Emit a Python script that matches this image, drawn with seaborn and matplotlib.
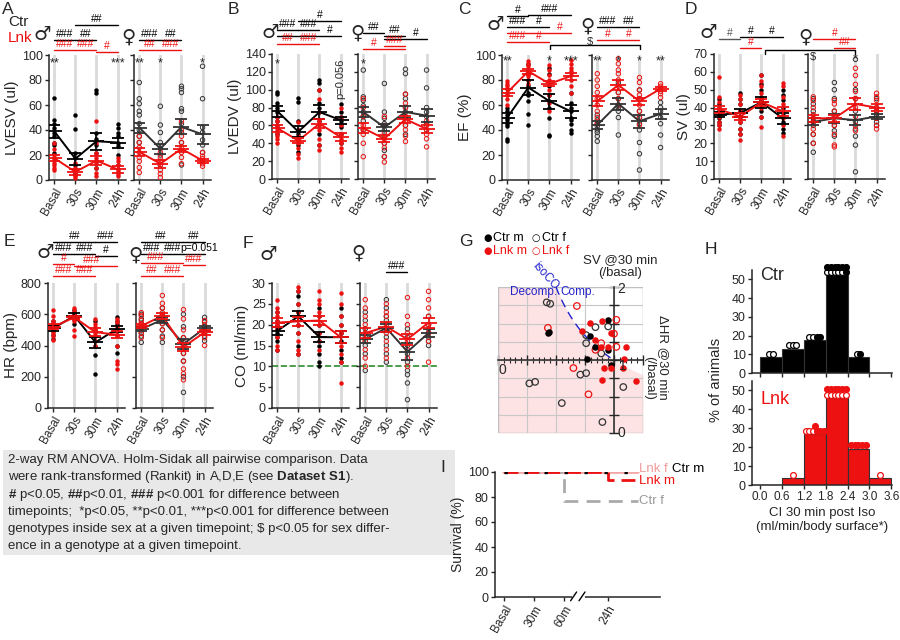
import numpy as np
import pandas as pd
import matplotlib
matplotlib.use('Agg')
import matplotlib.pyplot as plt
import matplotlib.transforms as mtrans
from matplotlib.lines import Line2D
from matplotlib.patches import Rectangle
import seaborn as sns

sns.set_style('ticks')
plt.rcParams['font.family'] = ['Liberation Sans', 'DejaVu Sans']
plt.rcParams['mathtext.fontset'] = 'custom'
plt.rcParams['mathtext.rm'] = 'Liberation Sans'
plt.rcParams['mathtext.bf'] = 'Liberation Sans:bold'
plt.rcParams['axes.linewidth'] = 1.1

times = ['Basal', '30s', '30m', '24h']
RED = '#ee1111'

# ---- A: LVESV (ul), points per timepoint
lvesv_ctr_m = [[66, 48, 45, 42, 38, 35, 30, 28, 22], [52, 41, 22, 18, 12, 9, 6], [72, 70, 38, 33, 28, 22, 15, 10], [45, 42, 38, 35, 30, 27, 20, 12]]
lvesv_lnk_m = [[30, 25, 20, 18, 16, 14, 12, 10, 8], [14, 10, 8, 6, 4, 3, 2], [47, 30, 22, 18, 14, 10, 6, 3], [18, 15, 12, 9, 7, 5, 3]]
lvesv_ctr_f = [[78, 65, 61, 55, 52, 45, 40, 35, 30], [59, 44, 38, 30, 25, 20, 12], [75, 73, 70, 57, 55, 45, 38, 30, 12], [91, 65, 42, 38, 32, 28, 22]]
lvesv_lnk_f = [[35, 30, 26, 22, 18, 15, 10, 6], [22, 18, 15, 12, 8, 5, 2], [47, 40, 35, 30, 26, 22, 18, 13], [22, 19, 17, 15, 13, 11]]
lvesv_ctr_m_mean, lvesv_ctr_m_sem = [39, 17, 31, 30], [5, 5, 7, 4]
lvesv_lnk_m_mean, lvesv_lnk_m_sem = [17.5, 6.5, 15.5, 8.5], [2.5, 2.5, 3.5, 2.5]
lvesv_ctr_f_mean, lvesv_ctr_f_sem = [42, 25, 42.5, 36.5], [4, 4, 6, 7.5]
lvesv_lnk_f_mean, lvesv_lnk_f_sem = [22.5, 13, 25, 15.5], [3.5, 3, 2.5, 1.5]

# ---- B: LVEDV (ul)
lvedv_ctr_m = [[97, 95, 85, 80, 75, 70, 65, 58, 50], [91, 86, 65, 55, 50, 45, 38, 30], [111, 108, 100, 85, 80, 75, 65, 50, 38], [84, 75, 70, 65, 62, 58, 50, 40]]
lvedv_lnk_m = [[70, 65, 60, 55, 52, 48, 45, 40], [64, 55, 48, 43, 40, 35, 28, 23], [100, 90, 75, 65, 60, 55, 45, 38, 32], [80, 70, 60, 50, 45, 40, 35, 30]]
lvedv_ctr_f = [[122, 92, 88, 82, 75, 70, 65, 55], [107, 75, 68, 62, 55, 48, 40, 32, 25], [123, 118, 95, 90, 80, 75, 70, 60, 50], [122, 102, 80, 75, 70, 62, 55]]
lvedv_lnk_f = [[90, 80, 70, 60, 55, 50, 40, 25], [70, 60, 52, 45, 40, 35, 25, 19], [95, 85, 80, 70, 65, 60, 55, 48, 42], [65, 60, 55, 50, 45, 36]]
lvedv_ctr_m_mean, lvedv_ctr_m_sem = [76, 53, 75, 66], [6, 6, 8, 4]
lvedv_lnk_m_mean, lvedv_lnk_m_sem = [57, 43, 62, 47], [4, 3, 5, 4]
lvedv_ctr_f_mean, lvedv_ctr_f_sem = [75, 58, 75, 71], [6, 4, 7, 7]
lvedv_lnk_f_mean, lvedv_lnk_f_sem = [57, 45, 67, 56], [6, 4, 4, 4]

# ---- C: EF (%)
ef_ctr_m = [[58, 55, 52, 50, 48, 45, 43, 33, 31], [93, 85, 80, 75, 70, 68, 63, 53, 44], [90, 85, 75, 68, 63, 58, 50, 36, 35], [70, 62, 58, 55, 50, 48, 45, 40, 38]]
ef_lnk_m = [[79, 77, 75, 73, 70, 68, 65, 60], [95, 93, 91, 88, 85, 83, 80, 77], [92, 88, 84, 80, 77, 72, 68, 62, 55], [96, 93, 90, 87, 84, 80, 75, 70]]
ef_ctr_f = [[52, 48, 45, 43, 40, 38, 35, 31], [78, 70, 65, 60, 58, 55, 50, 36], [72, 65, 55, 50, 45, 40, 30, 21, 8], [62, 58, 55, 50, 45, 36, 26]]
ef_lnk_f = [[85, 80, 75, 70, 65, 60, 55, 50, 45], [97, 93, 88, 85, 80, 75, 70, 65, 60], [82, 78, 72, 68, 65, 60, 55, 50, 44], [77, 75, 73, 71, 69, 66]]
ef_ctr_m_mean, ef_ctr_m_sem = [50, 74, 63, 55], [4, 6, 6, 5]
ef_lnk_m_mean, ef_lnk_m_sem = [70, 87, 77, 83], [2.5, 2, 2, 3]
ef_ctr_f_mean, ef_ctr_f_sem = [44, 61, 47, 53], [3, 5, 5, 4]
ef_lnk_f_mean, ef_lnk_f_sem = [63, 76, 63, 73], [4, 4, 3, 1.5]

# ---- D: SV (ul)
sv_ctr_m = [[45, 42, 40, 38, 36, 34, 32, 30], [48, 45, 42, 38, 35, 32, 28, 25], [58, 53, 50, 46, 44, 42, 38, 35], [50, 47, 44, 40, 36, 32, 28, 26]]
sv_lnk_m = [[57, 46, 43, 40, 38, 35, 32, 30, 28], [47, 45, 42, 38, 35, 32, 28, 25, 22], [58, 55, 52, 48, 45, 42, 40, 35, 29], [54, 52, 46, 42, 38, 34, 30, 24]]
sv_ctr_f = [[45, 42, 38, 34, 32, 30, 25, 20, 15], [54, 50, 45, 38, 35, 30, 27, 24], [67, 50, 45, 38, 32, 28, 24, 19, 4], [45, 40, 38, 36, 34, 32, 30]]
sv_lnk_f = [[46, 44, 40, 36, 32, 28, 25, 20], [44, 42, 38, 35, 32, 30, 25, 19, 18], [62, 58, 53, 49, 45, 40, 35, 30, 27], [48, 46, 44, 40, 38, 34, 30, 28]]
sv_ctr_m_mean, sv_ctr_m_sem = [36, 37, 43, 34], [1.5, 2, 3, 3]
sv_lnk_m_mean, sv_lnk_m_sem = [39, 35, 43, 38], [2, 2, 2, 2.5]
sv_ctr_f_mean, sv_ctr_f_sem = [32, 34, 33, 35], [2, 2.5, 3, 1.5]
sv_lnk_f_mean, sv_lnk_f_sem = [34, 34, 42, 40], [2, 2, 3.5, 2]

# ---- E: HR (bpm)
hr_ctr_m = [[560, 540, 520, 510, 500, 490, 470, 440], [630, 610, 600, 590, 580, 570, 540], [560, 500, 460, 430, 400, 340, 220], [580, 560, 540, 500, 470, 400, 350]]
hr_lnk_m = [[630, 590, 560, 540, 520, 500, 480, 460, 435], [640, 620, 600, 590, 580, 570, 560, 500, 460], [570, 540, 520, 500, 480, 460, 430, 400], [570, 550, 520, 500, 470, 400, 300, 280, 250]]
hr_ctr_f = [[600, 570, 540, 520, 500, 480, 460, 420], [640, 600, 580, 560, 540, 500, 460, 420], [600, 520, 450, 420, 380, 350, 300, 200, 100], [580, 550, 520, 500, 480, 460, 430]]
hr_lnk_f = [[610, 590, 560, 540, 520, 500, 480, 450], [720, 670, 640, 610, 590, 570, 540, 500, 450], [630, 570, 500, 450, 400, 350, 300, 250, 220, 180], [560, 530, 500, 480, 450, 400]]
hr_ctr_m_mean, hr_ctr_m_sem = [510, 590, 420, 505], [15, 15, 35, 20]
hr_lnk_m_mean, hr_lnk_m_sem = [520, 580, 485, 470], [15, 10, 25, 25]
hr_ctr_f_mean, hr_ctr_f_sem = [505, 565, 410, 510], [15, 20, 30, 15]
hr_lnk_f_mean, hr_lnk_f_sem = [525, 590, 390, 485], [15, 20, 25, 15]

# ---- F: CO (ml/min)
co_ctr_m = [[23, 21, 20, 19, 18, 17, 16, 14], [28, 27, 25, 23, 22, 20, 18, 15, 13], [24, 22, 20, 18, 16, 15, 13, 11, 10], [24, 22, 20, 18, 16, 14, 12, 11]]
co_lnk_m = [[26, 24, 23, 22, 21, 20, 19, 17, 15, 14], [29, 28, 25, 23, 22, 20, 18, 16, 14, 13], [28, 26, 25, 23, 22, 20, 18, 16, 14], [27.5, 25, 22, 20, 18, 15, 13, 11, 6]]
co_ctr_f = [[23, 21, 19, 17, 16, 15, 13, 9], [26, 24, 22, 21, 19, 17, 15, 13, 11], [19, 17, 15, 13, 11, 9, 8, 6, 2], [22, 20, 19, 18, 17, 16, 15]]
co_lnk_f = [[26, 24, 22, 20, 18, 16, 14, 12, 10], [25, 23, 22, 20, 19, 18, 16, 14, 12], [26.5, 22, 20, 18, 16, 14, 12, 10], [28, 26, 24, 22, 20, 18, 16, 11]]
co_ctr_m_mean, co_ctr_m_sem = [18.5, 22, 17, 17], [1, 1.2, 1.2, 1.5]
co_lnk_m_mean, co_lnk_m_sem = [20.5, 20.8, 21, 17], [1, 1, 1, 1.5]
co_ctr_f_mean, co_ctr_f_sem = [16.5, 19.2, 13.5, 18], [1, 1, 2, 1]
co_lnk_f_mean, co_lnk_f_sem = [18, 19.5, 16.5, 20.5], [1.3, 1.2, 1.3, 1.2]

# ---- G: dHR vs SV at 30 min (relative to basal)
g_ctr_m_x = [0.43, 0.44, 0.79, 0.95, 0.77, 0.84, 0.95, 0.97]
g_ctr_m_y = [1.37, 1.39, 1.33, 1.55, 1.01, 1.18, 1.14, 0.93]
g_ctr_f_x = [0.45, 0.42, 0.84, 0.95, 0.76, 0.76, 0.89, 0.76, 0.71, 0.32, 0.27, 0.55, 1.08, 0.90]
g_ctr_f_y = [1.77, 1.79, 1.45, 1.46, 1.34, 1.23, 1.09, 0.82, 0.80, 0.70, 0.68, 0.41, 0.63, 0.15]
g_lnk_m_x = [0.79, 0.90, 0.72, 0.84, 0.97, 1.10, 0.89, 0.95, 1.09, 0.91, 0.97, 1.08, 0.90, 1.19]
g_lnk_m_y = [1.51, 1.53, 1.40, 1.27, 1.37, 1.18, 1.18, 1.18, 1.01, 0.89, 0.89, 0.89, 0.73, 0.71]
g_lnk_f_x = [0.68, 1.02, 0.43, 1.00, 1.02, 0.89, 0.84, 0.65, 0.78]
g_lnk_f_y = [1.74, 1.55, 1.44, 1.36, 1.18, 1.23, 1.14, 0.89, 0.53]

# ---- H: CI histogram (animal counts per bin)
h_bins = [0.3, 0.9, 1.5, 2.1, 2.7, 3.3]
h_ctr_f = [2, 3, 2, 5, 1, 0]
h_ctr_m = [0, 0, 2, 7, 1, 0]
h_lnk_f = [0, 1, 3, 6, 0, 1]
h_lnk_m = [0, 0, 4, 6, 5, 0]

# ---- I: survival (%)
surv_x = [0, 2, 3.45, 4.45]
surv_ctr_m = [100, 100, 100, 100]
surv_lnk_f = [100, 100, 100, 100]
surv_ctr_f = [100, 76.9, 76.9, 76.9]
surv_lnk_m = [100, 100, 93.3, 93.3]
surv_ticks = [0, 1, 2, 3.45]
surv_labels = ['Basal', '30m', '60m', '24h']

W, H = 900, 640
fig = plt.figure(figsize=(9, 6.4), dpi=100)


def px_axes(left, top, width, height):
    return fig.add_axes([left / W, 1 - (top + height) / H, width / W, height / H])


def ftext(x, y, s, **kw):
    fig.text(x / W, 1 - y / H, s, **kw)


def fline(xs, ys, **kw):
    fig.add_artist(Line2D([x / W for x in xs], [1 - y / H for y in ys], **kw))


def draw_group(ax, pts, mean, sem, color, hollow):
    df = pd.DataFrame({'t': [i for i, col in enumerate(pts) for _ in col],
                       'v': [v for col in pts for v in col]})
    n0 = len(ax.collections)
    sns.stripplot(data=df, x='t', y='v', native_scale=True, jitter=False,
                  color=color, size=3.2, linewidth=0, ax=ax, zorder=3)
    if hollow:
        for coll in ax.collections[n0:]:
            coll.set_facecolor('none')
            coll.set_edgecolor(color)
            coll.set_linewidth(0.7)
    x = np.arange(4)
    sns.lineplot(x=x, y=mean, color=color, lw=1.4, ax=ax, zorder=4)
    ax.errorbar(x, mean, yerr=sem, fmt='none', ecolor=color, elinewidth=1.2,
                capsize=4.5, capthick=1.3, zorder=5)
    ax.plot(x, mean, ls='none', marker='_', ms=11, mew=1.3, color=color, zorder=5)


def dot_panel(xm, xf, top, ymax, yticks, ylabel, groups):
    axs = []
    for k, x0 in enumerate([xm, xf]):
        ax = px_axes(x0, top, 77, 125)
        for i in range(4):
            ax.axvline(i, color='#dadada', lw=2, zorder=0)
        for pts, mean, sem, color in groups[k]:
            draw_group(ax, pts, mean, sem, color, hollow=(k == 1))
        ax.set_xlim(-0.25, 3.4)
        ax.set_ylim(0, ymax)
        ax.set_yticks(yticks)
        ax.set_xticks(range(4))
        ax.set_xticklabels(times, rotation=60, ha='right', rotation_mode='anchor', fontsize=8.5)
        ax.set_xlabel('')
        if k == 0:
            ax.set_ylabel(ylabel, fontsize=11, labelpad=2)
            ax.tick_params(axis='y', labelsize=9)
        else:
            ax.set_ylabel('')
            ax.set_yticklabels([])
        ax.tick_params(length=3, width=1, pad=1.5)
        sns.despine(ax=ax)
        axs.append(ax)
    return axs


def sig(ax, i0, i1, dpx, text, color='black', tx=None):
    tr = mtrans.blended_transform_factory(ax.transData, ax.transAxes)
    y = 1 + dpx / 125
    ax.plot([i0, i1], [y, y], color=color, lw=1, transform=tr, clip_on=False)
    ax.text((i0 + i1) / 2 if tx is None else tx, y + 0.005, text, color=color,
            ha='center', va='bottom', fontsize=7.5, transform=tr)


def stars(ax, d, y):
    for i, s in d.items():
        ax.text(i, y, s, ha='center', va='center', fontsize=9)


K = 'black'
CF = '#333333'

# ---------------- row 1 ----------------
axA = dot_panel(49, 134, 55, 100, range(0, 101, 20), 'LVESV (ul)',
                [[(lvesv_ctr_m, lvesv_ctr_m_mean, lvesv_ctr_m_sem, K), (lvesv_lnk_m, lvesv_lnk_m_mean, lvesv_lnk_m_sem, RED)],
                 [(lvesv_ctr_f, lvesv_ctr_f_mean, lvesv_ctr_f_sem, CF), (lvesv_lnk_f, lvesv_lnk_f_mean, lvesv_lnk_f_sem, RED)]])
sig(axA[0], 1, 3, 30, '##'); sig(axA[0], 0, 1, 15, '###'); sig(axA[0], 1, 2, 15, '##')
sig(axA[0], 0, 1, 5, '###', RED); sig(axA[0], 1, 2, 5, '###', RED); sig(axA[0], 2, 3, 3, '#', RED)
sig(axA[1], 0, 1, 15, '###'); sig(axA[1], 1, 2, 15, '##')
sig(axA[1], 0, 1, 5, '##', RED); sig(axA[1], 1, 2, 5, '###', RED)
stars(axA[0], {0: '**', 3: '***'}, 93); stars(axA[1], {0: '**', 1: '*', 3: '*'}, 93)

axB = dot_panel(272, 358, 54, 140, range(0, 141, 20), 'LVEDV (ul)',
                [[(lvedv_ctr_m, lvedv_ctr_m_mean, lvedv_ctr_m_sem, K), (lvedv_lnk_m, lvedv_lnk_m_mean, lvedv_lnk_m_sem, RED)],
                 [(lvedv_ctr_f, lvedv_ctr_f_mean, lvedv_ctr_f_sem, CF), (lvedv_lnk_f, lvedv_lnk_f_mean, lvedv_lnk_f_sem, RED)]])
sig(axB[0], 1, 3, 33, '#'); sig(axB[0], 0, 1, 24, '###'); sig(axB[0], 1, 2, 24, '###')
sig(axB[0], 0, 3, 18, '#', tx=2.5)
sig(axB[0], 0, 1, 10, '##', RED); sig(axB[0], 1, 2, 10, '###', RED)
sig(axB[1], 0, 1, 21, '##'); sig(axB[1], 1, 2, 18, '##'); sig(axB[1], 1, 3, 15, '#', tx=2.5)
sig(axB[1], 0, 2, 5, '#', RED, tx=0.5); sig(axB[1], 1, 2, 8, '###', RED)
stars(axB[0], {0: '*'}, 128); stars(axB[1], {0: '*'}, 128)
axB[0].text(3, 112, 'p=0.056', rotation=90, ha='center', va='center', fontsize=8)

axC = dot_panel(502, 592, 55, 100, range(0, 101, 20), 'EF (%)',
                [[(ef_ctr_m, ef_ctr_m_mean, ef_ctr_m_sem, K), (ef_lnk_m, ef_lnk_m_mean, ef_lnk_m_sem, RED)],
                 [(ef_ctr_f, ef_ctr_f_mean, ef_ctr_f_sem, CF), (ef_lnk_f, ef_lnk_f_mean, ef_lnk_f_sem, RED)]])
sig(axC[0], 0, 1, 39, '#'); sig(axC[0], 1, 3, 40, '###')
sig(axC[0], 0, 1, 28, '###'); sig(axC[0], 1, 2, 28, '#')
sig(axC[0], 0, 3, 22, '#', RED, tx=2.5)
sig(axC[0], 0, 1, 13, '###', RED); sig(axC[0], 1, 2, 13, '#', RED)
sig(axC[1], 0, 1, 28, '###'); sig(axC[1], 1, 2, 28, '##')
sig(axC[1], 0, 1, 15, '#', RED); sig(axC[1], 1, 2, 15, '#', RED)
stars(axC[0], {0: '**', 2: '*', 3: '***'}, 95); stars(axC[1], {0: '**', 1: '*', 2: '*', 3: '**'}, 95)
fline([550, 550, 640, 640], [49, 45, 45, 49], color='black', lw=1)
ftext(590, 42, r'\$', ha='center', va='center', fontsize=8)

axD = dot_panel(714, 808, 54, 70, range(0, 71, 10), 'SV (ul)',
                [[(sv_ctr_m, sv_ctr_m_mean, sv_ctr_m_sem, K), (sv_lnk_m, sv_lnk_m_mean, sv_lnk_m_sem, RED)],
                 [(sv_ctr_f, sv_ctr_f_mean, sv_ctr_f_sem, CF), (sv_lnk_f, sv_lnk_f_mean, sv_lnk_f_sem, RED)]])
sig(axD[0], 0, 1, 15, '#', '#555555'); sig(axD[0], 1, 2, 17, '#'); sig(axD[0], 2, 3, 17, '#')
sig(axD[0], 1, 2, 6, '#', RED)
sig(axD[1], 0, 2, 15, '#', RED, tx=1); sig(axD[1], 1, 2, 6, '##', RED, tx=1.5)
stars(axD[1], {2: '*'}, 67)
fline([765, 765, 855, 855], [54, 50, 50, 54], color='black', lw=1)
ftext(813, 57, r'\$', ha='center', va='center', fontsize=8)

# ---------------- row 2 ----------------
axE = dot_panel(48, 136, 283, 800, range(0, 801, 200), 'HR (bpm)',
                [[(hr_ctr_m, hr_ctr_m_mean, hr_ctr_m_sem, K), (hr_lnk_m, hr_lnk_m_mean, hr_lnk_m_sem, RED)],
                 [(hr_ctr_f, hr_ctr_f_mean, hr_ctr_f_sem, CF), (hr_lnk_f, hr_lnk_f_mean, hr_lnk_f_sem, RED)]])
sig(axE[0], 0, 2, 41, '##'); sig(axE[0], 2, 3, 41, '###')
sig(axE[0], 0, 1, 29, '###'); sig(axE[0], 1, 2, 29, '###'); sig(axE[0], 2, 3, 27, '#')
sig(axE[0], 0, 1, 19, '#', RED); sig(axE[0], 1, 3, 17, '###', RED, tx=1.8)
sig(axE[0], 0, 1, 7, '###', RED); sig(axE[0], 1, 2, 7, '###', RED)
sig(axE[1], 0, 2, 41, '##', tx=0.9); sig(axE[1], 2, 3, 41, '##')
sig(axE[1], 0, 1, 29, '###'); sig(axE[1], 1, 2, 29, '###'); sig(axE[1], 2, 3, 29, 'p=0.051', tx=2.75)
sig(axE[1], 0, 2, 20, '###', RED, tx=0.7); sig(axE[1], 2, 3, 18, '###', RED)
sig(axE[1], 0, 1, 7, '##', RED); sig(axE[1], 1, 2, 7, '###', RED)

axF = dot_panel(272, 360, 283, 30, range(0, 31, 5), 'CO (ml/min)',
                [[(co_ctr_m, co_ctr_m_mean, co_ctr_m_sem, K), (co_lnk_m, co_lnk_m_mean, co_lnk_m_sem, RED)],
                 [(co_ctr_f, co_ctr_f_mean, co_ctr_f_sem, CF), (co_lnk_f, co_lnk_f_mean, co_lnk_f_sem, RED)]])
axF[0].axhline(10, xmin=0, xmax=1.15, color='#2e8b2e', ls='--', lw=1.2, clip_on=False, zorder=2)
axF[1].axhline(10, color='#2e8b2e', ls='--', lw=1.2, zorder=2)
sig(axF[1], 1, 2, 11, '###')

# sex symbols
for x, y, s in [(42, 35, '♂'), (128, 37, '♀'), (270, 32, '♂'), (357, 33, '♀'),
                (495, 25, '♂'), (587, 26, '♀'), (708, 33, '♂'), (805, 37, '♀'),
                (45, 253, '♂'), (135, 255, '♀'), (268, 255, '♂'), (358, 253, '♀')]:
    ftext(x, y, s, ha='center', va='center', fontsize=14, family='DejaVu Sans')

ftext(8, 22, 'Ctr', fontsize=11, va='center')
ftext(8, 38, 'Lnk', fontsize=11, va='center', color=RED)

# ---------------- G ----------------
axG = px_axes(498, 287, 145, 146)
xs = np.linspace(0.001, 1.25, 400)
axG.fill_between(xs, 0, np.minimum(2, 1 / xs), color='#fde3e3', lw=0, zorder=0)
xi = np.linspace(0.5, 0.97, 100)
axG.plot(xi, 1 / xi, color='#2323cc', lw=1, ls=(0, (6, 4)), zorder=2, clip_on=False)
for gx, gy, color, hollow in [(g_ctr_f_x, g_ctr_f_y, CF, True), (g_lnk_f_x, g_lnk_f_y, RED, True),
                              (g_ctr_m_x, g_ctr_m_y, K, False), (g_lnk_m_x, g_lnk_m_y, RED, False)]:
    n0 = len(axG.collections)
    sns.scatterplot(x=gx, y=gy, color=color, s=22, linewidth=0, ax=axG, zorder=4)
    if hollow:
        for coll in axG.collections[n0:]:
            coll.set_facecolor('none')
            coll.set_edgecolor(color)
            coll.set_linewidth(0.9)
axG.set_xlim(0, 1.25)
axG.set_ylim(0, 2)
axG.set_xticks(np.arange(0, 1.26, 0.25))
axG.set_xticks(np.arange(0, 1.251, 0.05), minor=True)
axG.set_yticks(np.arange(0, 2.01, 0.25))
axG.set_xticklabels([]); axG.set_yticklabels([])
axG.grid(True, color='#c8c8c8', lw=0.8)
axG.spines['left'].set_position(('data', 1))
axG.spines['bottom'].set_position(('data', 1))
axG.spines['top'].set_visible(False)
axG.spines['right'].set_visible(False)
axG.tick_params(which='major', direction='inout', length=7, width=1)
axG.tick_params(which='minor', direction='inout', length=5, width=0.8, bottom=True)
axG.add_patch(Rectangle((0, 0), 1.25, 2, fill=False, ec='#c0c0c0', lw=1, zorder=1))
ftext(499, 370, '0', fontsize=10, ha='left', va='center')
ftext(619, 366, '1', fontsize=10, ha='left', va='center')
ftext(617, 289, '2', fontsize=10, ha='left', va='center')
ftext(617, 433, '0', fontsize=10, ha='left', va='center')
ftext(620, 267, 'SV @30 min\n(/basal)', fontsize=9.5, ha='center', va='center', linespacing=1.1)
ftext(656, 357, 'ΔHR @30 min\n(/basal)', fontsize=9.5, ha='center', va='center',
      rotation=-90, multialignment='right', linespacing=1.1)
ftext(545, 276, 'isoCO', fontsize=8.5, color='#2323cc', ha='center', va='center', rotation=-48)
ftext(510, 292, 'Decomp.', fontsize=8.5, color='#2323cc', ha='left', va='center')
ftext(560, 292, 'Comp.', fontsize=8.5, color='#2323cc', ha='left', va='center')
# legend
for x, y, mk, lab, col in [(483, 238, '●', 'Ctr m', K), (532, 238, '○', 'Ctr f', K),
                           (483, 251, '●', 'Lnk m', RED), (532, 251, '○', 'Lnk f', RED)]:
    ftext(x, y, mk, fontsize=7, color=col, ha='left', va='center', family='DejaVu Sans')
    ftext(x + 10, y, lab, fontsize=9, color=col, ha='left', va='center')

# ---------------- H ----------------
def hist_panel(ax, f_counts, m_counts, color):
    total = sum(f_counts) + sum(m_counts)
    pct = [100 * (f + m) / total for f, m in zip(f_counts, m_counts)]
    sns.barplot(x=h_bins, y=pct, native_scale=True, width=1, color=color, saturation=1,
                edgecolor='#333333', linewidth=0.8, errorbar=None, ax=ax)
    for b, p, f, m in zip(h_bins, pct, f_counts, m_counts):
        kinds = [False] * f + [True] * m
        for j, filled in enumerate(kinds):
            row, col = divmod(j, 6)
            nrow = min(6, len(kinds) - row * 6)
            ax.plot(b + (col - (nrow - 1) / 2) * 0.1, p + 1.7 + row * 2.7, 'o', ms=4.2,
                    mfc=color if filled else 'white', mec=color, mew=0.9, clip_on=False, zorder=5)
    ax.set_xlim(-0.22, 3.62)
    ax.set_ylim(0, 55)
    ax.set_yticks(range(0, 51, 10))
    ax.set_xticks(np.arange(0, 3.61, 0.6))
    ax.tick_params(length=3, width=1, labelsize=9, pad=1.5)
    ax.set_xlabel(''); ax.set_ylabel('')
    sns.despine(ax=ax)


axH1 = px_axes(752, 270, 140, 103)
hist_panel(axH1, h_ctr_f, h_ctr_m, 'black')
axH1.set_xticklabels([])
axH1.text(0.0, 52, 'Ctr', fontsize=13, va='center')
axH2 = px_axes(752, 381, 140, 104)
hist_panel(axH2, h_lnk_f, h_lnk_m, RED)
axH2.set_xticklabels(['0.0', '0.6', '1.2', '1.8', '2.4', '3.0', '3.6'], fontsize=8.5)
axH2.text(0.0, 45, 'Lnk', fontsize=13, va='center', color=RED)
axH2.set_xlabel('CI 30 min post Iso\n(ml/min/body surface*)', fontsize=9.5, labelpad=3)
ftext(716, 380, '% of animals', fontsize=10.5, rotation=90, ha='center', va='center')

# ---------------- I ----------------
axI = px_axes(495, 472, 165, 125)
sns.lineplot(x=surv_x, y=surv_lnk_f, drawstyle='steps-post', color='#f6a5a5', lw=2.6, ax=axI)
sns.lineplot(x=surv_x, y=surv_ctr_f, drawstyle='steps-post', color='#aaaaaa', lw=2, ls=(0, (5, 3)), ax=axI)
sns.lineplot(x=surv_x, y=surv_lnk_m, drawstyle='steps-post', color=RED, lw=2, ls=(0, (5, 2.5)), ax=axI)
sns.lineplot(x=surv_x, y=surv_ctr_m, drawstyle='steps-post', color='black', lw=2.4, ls=(0, (1, 5)), ax=axI)
axI.set_xlim(-0.3, 5.2)
axI.set_ylim(0, 100)
axI.set_yticks(range(0, 101, 20))
axI.set_xticks(surv_ticks)
axI.set_xticklabels(surv_labels, rotation=60, ha='right', rotation_mode='anchor', fontsize=8.5)
axI.set_ylabel('Survival (%)', fontsize=10, labelpad=2)
axI.tick_params(length=3, width=1, labelsize=9, pad=1.5)
axI.tick_params(axis='x', labelsize=8.5)
sns.despine(ax=axI)
axI.plot([2.32, 2.62], [0, 0], color='white', lw=3, clip_on=False, zorder=5)
axI.plot([2.22, 2.42], [-3, 4], color='black', lw=1, clip_on=False, zorder=6)
axI.plot([2.5, 2.7], [-3, 4], color='black', lw=1, clip_on=False, zorder=6)
ftext(639, 469, 'Lnk f', fontsize=9.5, color='#f29a9a', va='center')
ftext(672, 469, 'Ctr m', fontsize=9.5, color='black', va='center')
ftext(639, 481, 'Lnk m', fontsize=9.5, color=RED, va='center')
ftext(639, 501, 'Ctr f', fontsize=9.5, color='#999999', va='center')

# ---------------- stats note ----------------
fig.add_artist(Rectangle((3 / W, 1 - 555 / H), 452 / W, 105 / H, transform=fig.transFigure,
                         facecolor='#e8e8e8', edgecolor='none', zorder=0))
note = [r'2-way RM ANOVA. Holm-Sidak all pairwise comparison. Data',
        r'were rank-transformed (Rankit) in A,D,E (see $\bf{Dataset\ S1}$).',
        r'$\bf{\#}$ p<0.05, $\bf{\#\#}$p<0.01, $\bf{\#\#\#}$ p<0.001 for difference between',
        r'timepoints;  *p<0.05, **p<0.01, ***p<0.001 for difference between',
        r'genotypes inside sex at a given timepoint; \$ p<0.05 for sex differ-',
        r'ence in a genotype at a given timepoint.']
for k, line in enumerate(note):
    ftext(8, 460 + 17.3 * k, line, fontsize=9.5, va='center')

# panel letters
for x, y, s in [(2, 10, 'A'), (228, 10, 'B'), (458, 10, 'C'), (685, 10, 'D'),
                (4, 242, 'E'), (243, 243, 'F'), (459, 242, 'G'), (705, 250, 'H'), (440, 468, 'I')]:
    ftext(x, y, s, fontsize=12.5, va='center')

fig.savefig('out.png', dpi=100)
